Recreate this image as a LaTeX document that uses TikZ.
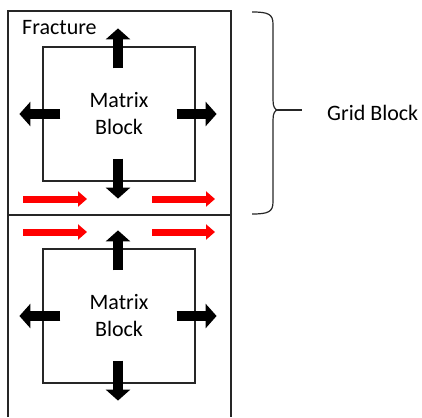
\documentclass[tikz,border=0pt]{standalone}
\usepackage{fontspec}
\setmainfont{Carlito}
\usetikzlibrary{
  arrows.meta,
  positioning,
  calc
}
\definecolor{flowred}{HTML}{FF0000}
\definecolor{edgegray}{HTML}{262626}

\begin{document}
\begin{tikzpicture}[x=1pt,y=-1pt,
      matrixbox/.style={
        rectangle, draw=edgegray, line width=1.2pt,
        minimum width=152pt, minimum height=134pt, inner sep=0pt,
        font=\fontsize{22}{27}\selectfont, align=center
      },
      label/.style={font=\fontsize{22}{27}\selectfont, inner sep=0pt},
      leak/.style={line width=10pt, -{Triangle[width=24pt,length=11pt]}},
      flow/.style={line width=7pt, flowred, -{Triangle[width=15pt,length=9pt]}},
      wall/.style={draw=edgegray, line width=1.2pt}
    ]
      \useasboundingbox (0,0) rectangle (422,417);

      % grid cells
      \draw[wall] (8,417) -- (8,11) -- (231,11) -- (231,417);
      \draw[wall] (8,215) -- (231,215);

      \node[matrixbox] (mtop) at (119,114) {Matrix\\Block};
      \node[matrixbox] (mbot) at (119,316) {Matrix\\Block};

      \node[label, anchor=base west] (frac) at (22,35) {Fracture};

      % matrix -> fracture
      \foreach \m in {mtop,mbot}{
        \draw[leak] ($(\m.north)+(-1,22)$) -- ($(\m.north)+(-1,-18)$);
        \draw[leak] ($(\m.south)+(-1,-23)$) -- ($(\m.south)+(-1,17)$);
        \draw[leak] ($(\m.west)+(18,0)$) -- ($(\m.west)+(-23,0)$);
        \draw[leak] ($(\m.east)+(-19,0)$) -- ($(\m.east)+(21,0)$);
      }

      % flow along the fracture
      \foreach \yy in {199,232}{
        \draw[flow] (23,\yy) -- (87,\yy);
        \draw[flow] (152,\yy) -- (215,\yy);
      }

      % brace
      \coordinate (btip) at (278,110);
      \draw[wall] (252,12) .. controls (268,12) and (273,14) .. (273,24)
        -- (273,100) .. controls (273,107) and (275,110) .. (btip);
      \draw[wall] (252,214) .. controls (268,214) and (273,212) .. (273,202)
        -- (273,120) .. controls (273,113) and (275,110) .. (btip);
      \node[label, anchor=west] (grid) at (327,113) {Grid Block};
      \draw[wall] (btip) -- (302,110);
    \end{tikzpicture}
\end{document}
